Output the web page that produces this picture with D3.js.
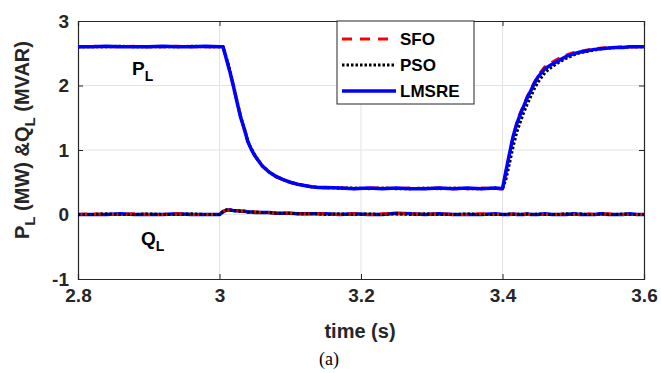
<!DOCTYPE html>
<html>
<head>
<meta charset="utf-8">
<script src="https://cdn.jsdelivr.net/npm/d3@7"></script>
<style>
  body { margin: 0; background: #fff; }
  text { font-family: "Liberation Sans", Arial, sans-serif; }
</style>
</head>
<body>
<div id="chart"></div>
<script>
// time samples (s)
var time = [2.80, 2.82, 2.84, 2.86, 2.88, 2.90, 2.92, 2.94, 2.96, 2.98, 3.00,
  3.005, 3.01, 3.015, 3.02, 3.025, 3.03, 3.035, 3.04, 3.045, 3.05, 3.06, 3.07, 3.08, 3.09, 3.10, 3.11, 3.12, 3.13, 3.14, 3.15,
  3.17, 3.19, 3.21, 3.23, 3.25, 3.27, 3.29, 3.31, 3.33, 3.35, 3.37, 3.39, 3.40,
  3.405, 3.41, 3.415, 3.42, 3.425, 3.43, 3.435, 3.44, 3.445, 3.45, 3.46, 3.47, 3.48, 3.49, 3.50, 3.51, 3.52, 3.53, 3.54, 3.55, 3.56, 3.57, 3.58, 3.59, 3.60];

// P_L (MW)
var pSFO = [2.60, 2.61, 2.60, 2.60, 2.61, 2.60, 2.60, 2.61, 2.60, 2.60, 2.60,
  2.60, 2.41, 2.21, 1.98, 1.74, 1.51, 1.32, 1.14, 1.00, 0.91, 0.75, 0.66, 0.58, 0.54, 0.50, 0.47, 0.45, 0.43, 0.42, 0.41,
  0.41, 0.40, 0.41, 0.41, 0.40, 0.41, 0.40, 0.41, 0.40, 0.40, 0.41, 0.40, 0.40,
  0.66, 0.94, 1.20, 1.41, 1.57, 1.70, 1.83, 1.94, 2.05, 2.15, 2.29, 2.36, 2.42, 2.47, 2.51, 2.53, 2.55, 2.57, 2.58, 2.59, 2.59, 2.60, 2.60, 2.60, 2.60];
var pPSO = [2.60, 2.60, 2.60, 2.61, 2.60, 2.60, 2.60, 2.60, 2.61, 2.60, 2.60,
  2.60, 2.42, 2.22, 1.99, 1.75, 1.52, 1.34, 1.14, 1.02, 0.92, 0.76, 0.66, 0.59, 0.54, 0.50, 0.47, 0.45, 0.43, 0.42, 0.42,
  0.41, 0.41, 0.40, 0.41, 0.40, 0.40, 0.41, 0.40, 0.41, 0.40, 0.40, 0.41, 0.40,
  0.55, 0.80, 1.05, 1.27, 1.43, 1.58, 1.71, 1.83, 1.95, 2.05, 2.20, 2.29, 2.36, 2.42, 2.47, 2.51, 2.53, 2.55, 2.57, 2.58, 2.59, 2.59, 2.60, 2.60, 2.60];
var pLMSRE = [2.60, 2.60, 2.61, 2.60, 2.60, 2.60, 2.61, 2.60, 2.60, 2.61, 2.60,
  2.60, 2.40, 2.20, 1.97, 1.73, 1.50, 1.33, 1.13, 1.01, 0.91, 0.76, 0.66, 0.59, 0.54, 0.50, 0.47, 0.45, 0.43, 0.42, 0.42,
  0.41, 0.40, 0.41, 0.40, 0.41, 0.40, 0.40, 0.41, 0.40, 0.41, 0.40, 0.41, 0.40,
  0.68, 0.95, 1.21, 1.40, 1.55, 1.68, 1.81, 1.92, 2.03, 2.13, 2.26, 2.33, 2.39, 2.45, 2.49, 2.52, 2.54, 2.56, 2.57, 2.58, 2.59, 2.59, 2.60, 2.60, 2.60];

// Q_L (MVAR)
var qSFO = [0.00, 0.01, 0.00, 0.00, 0.01, 0.00, 0.00, 0.01, 0.00, 0.00, 0.00,
  0.05, 0.07, 0.07, 0.06, 0.06, 0.05, 0.05, 0.04, 0.04, 0.04, 0.03, 0.03, 0.02, 0.02, 0.02, 0.01, 0.01, 0.01, 0.01, 0.01,
  0.00, 0.01, 0.00, 0.01, 0.01, 0.01, 0.00, 0.01, 0.00, 0.00, 0.01, 0.00, 0.00,
  0.01, 0.00, 0.01, 0.00, 0.00, 0.01, 0.00, 0.00, 0.01, 0.00, 0.00, 0.01, 0.00, 0.01, 0.00, 0.00, 0.01, 0.00, 0.00, 0.01, 0.00, 0.00, 0.01, 0.00, 0.00];
var qPSO = [0.00, 0.00, 0.01, 0.00, 0.00, 0.01, 0.00, 0.00, 0.01, 0.00, 0.00,
  0.05, 0.07, 0.07, 0.06, 0.06, 0.05, 0.05, 0.04, 0.04, 0.04, 0.03, 0.03, 0.02, 0.02, 0.02, 0.01, 0.01, 0.01, 0.01, 0.00,
  0.01, 0.00, 0.01, 0.00, 0.01, 0.00, 0.01, 0.00, 0.00, 0.01, 0.00, 0.00, 0.00,
  0.00, 0.01, 0.00, 0.00, 0.01, 0.00, 0.01, 0.00, 0.00, 0.01, 0.00, 0.00, 0.00, 0.01, 0.00, 0.01, 0.00, 0.00, 0.01, 0.00, 0.00, 0.01, 0.00, 0.00, 0.00];
var qLMSRE = [0.00, 0.00, 0.00, 0.01, 0.00, 0.00, 0.00, 0.01, 0.00, 0.00, 0.00,
  0.04, 0.07, 0.07, 0.06, 0.06, 0.05, 0.05, 0.04, 0.04, 0.03, 0.03, 0.03, 0.02, 0.02, 0.02, 0.01, 0.01, 0.01, 0.01, 0.01,
  0.00, 0.01, 0.00, 0.00, 0.02, 0.01, 0.00, 0.01, 0.00, 0.00, 0.00, 0.01, 0.00,
  0.00, 0.00, 0.01, 0.00, 0.00, 0.00, 0.01, 0.00, 0.00, 0.00, 0.01, 0.00, 0.00, 0.00, 0.01, 0.00, 0.00, 0.00, 0.01, 0.00, 0.00, 0.00, 0.01, 0.00, 0.00];

var xTicks = [2.8, 3, 3.2, 3.4, 3.6];
var yTicks = [-1, 0, 1, 2, 3];
var legendNames = ["SFO", "PSO", "LMSRE"];

//styles per method
var styles = {
  SFO:   {color: "#ff0000", dash: "9,7", width: 3},
  PSO:   {color: "#000000", dash: "2.5,2", width: 3},
  LMSRE: {color: "#0000ff", dash: null, width: 3.5}
};

var width = 661, height = 373;
var plotL = 78, plotR = 644, plotT = 21, plotB = 279;

var svg = d3.select("#chart").append("svg")
  .attr("width", width)
  .attr("height", height);

var x = d3.scaleLinear().domain([2.8, 3.6]).range([plotL, plotR]);
var y = d3.scaleLinear().domain([-1, 3]).range([plotB, plotT]);

//grid
svg.append("g").selectAll("line.gx")
  .data(xTicks.slice(1, -1)).enter().append("line")
  .attr("x1", d => x(d)).attr("x2", d => x(d))
  .attr("y1", plotT).attr("y2", plotB)
  .attr("stroke", "#e3e3e3").attr("stroke-width", 1);
svg.append("g").selectAll("line.gy")
  .data(yTicks.slice(1, -1)).enter().append("line")
  .attr("x1", plotL).attr("x2", plotR)
  .attr("y1", d => y(d)).attr("y2", d => y(d))
  .attr("stroke", "#e3e3e3").attr("stroke-width", 1);

//axes (ticks inward)
svg.append("g").attr("transform", "translate(0," + plotB + ")")
  .call(d3.axisBottom(x).tickValues(xTicks).tickSize(-5).tickPadding(10).tickFormat(d => String(d)));
svg.append("g").attr("transform", "translate(" + plotL + ",0)")
  .call(d3.axisLeft(y).tickValues(yTicks).tickSize(-5).tickPadding(9).tickFormat(d => String(d)));
svg.append("g").attr("transform", "translate(0," + plotT + ")")
  .call(d3.axisTop(x).tickValues(xTicks).tickSize(-5).tickFormat(""));
svg.append("g").attr("transform", "translate(" + plotR + ",0)")
  .call(d3.axisRight(y).tickValues(yTicks).tickSize(-5).tickFormat(""));

svg.selectAll(".domain").attr("stroke", "#262626").attr("stroke-width", 1.2);
svg.selectAll(".tick line").attr("stroke", "#262626");
svg.selectAll(".tick text")
  .attr("font-family", "Liberation Sans, Arial, sans-serif")
  .attr("font-size", 19).attr("font-weight", "bold").attr("fill", "#262626");

//lines
var line = d3.line().x((d, i) => x(time[i])).y(d => y(d));

function drawSeries(vals, name) {
  var s = styles[name];
  svg.append("path")
    .attr("d", line(vals))
    .attr("fill", "none")
    .attr("stroke", s.color)
    .attr("stroke-width", s.width)
    .attr("stroke-dasharray", s.dash)
    .attr("stroke-linejoin", "round");
}

drawSeries(qLMSRE, "LMSRE");
drawSeries(qSFO, "SFO");
drawSeries(qPSO, "PSO");
drawSeries(pSFO, "SFO");
drawSeries(pPSO, "PSO");
drawSeries(pLMSRE, "LMSRE");

//annotations P_L and Q_L
var pl = svg.append("text").attr("x", 132).attr("y", 75)
  .attr("font-size", 19).attr("font-weight", "bold").attr("fill", "#000");
pl.append("tspan").text("P");
pl.append("tspan").attr("dy", 6).attr("font-size", 14).text("L");
var ql = svg.append("text").attr("x", 141).attr("y", 245)
  .attr("font-size", 19).attr("font-weight", "bold").attr("fill", "#000");
ql.append("tspan").text("Q");
ql.append("tspan").attr("dy", 6).attr("font-size", 14).text("L");

//legend
var lg = svg.append("g");
lg.append("rect").attr("x", 337).attr("y", 21).attr("width", 137).attr("height", 83)
  .attr("fill", "#fff").attr("stroke", "#262626").attr("stroke-width", 1);
legendNames.forEach(function(n, i) {
  var s = styles[n];
  var yy = 39 + i * 26;
  lg.append("line").attr("x1", 342).attr("x2", 396).attr("y1", yy).attr("y2", yy)
    .attr("stroke", s.color).attr("stroke-width", s.width)
    .attr("stroke-dasharray", n == "SFO" ? "10,8" : s.dash);
  lg.append("text").attr("x", 400).attr("y", yy + 6)
    .attr("font-size", 17).attr("font-weight", "bold").attr("fill", "#000").text(n);
});

//axis labels
svg.append("text").attr("x", 360).attr("y", 338).attr("text-anchor", "middle")
  .attr("font-size", 20).attr("font-weight", "bold").attr("fill", "#262626").text("time (s)");

var yl = svg.append("text").attr("transform", "translate(29,140) rotate(-90)")
  .attr("text-anchor", "middle").attr("font-size", 20).attr("font-weight", "bold").attr("fill", "#262626");
yl.append("tspan").text("P");
yl.append("tspan").attr("dy", 6).attr("font-size", 15).text("L");
yl.append("tspan").attr("dy", -6).text(" (MW) &Q");
yl.append("tspan").attr("dy", 6).attr("font-size", 15).text("L");
yl.append("tspan").attr("dy", -6).text(" (MVAR)");

svg.append("text").attr("x", 329).attr("y", 365).attr("text-anchor", "middle")
  .style("font-family", "Liberation Serif, Times New Roman, serif")
  .attr("font-size", 18).attr("fill", "#000").text("(a)");
</script>
</body>
</html>
